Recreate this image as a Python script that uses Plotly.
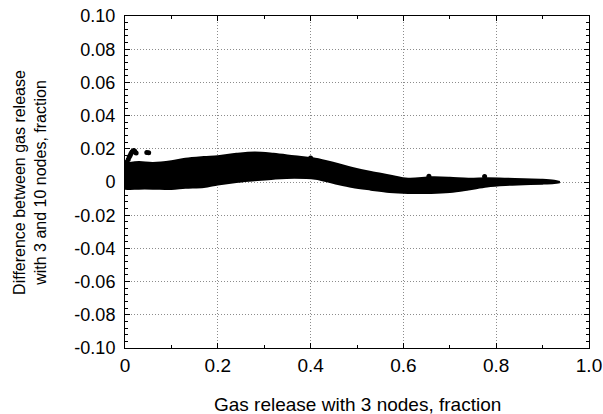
import plotly.graph_objects as go

# Envelope of the dense cloud of simulated points (gas release with 3 nodes vs. difference)
gas_release_3n = [0.0, 0.01, 0.03, 0.06, 0.10, 0.13, 0.17, 0.20, 0.24, 0.28, 0.32, 0.365,
                  0.41, 0.45, 0.49, 0.53, 0.57, 0.61, 0.66, 0.70, 0.74, 0.78, 0.82, 0.86,
                  0.90, 0.925, 0.937]
diff_upper = [0.011, 0.0115, 0.012, 0.0115, 0.0125, 0.014, 0.015, 0.0155, 0.017, 0.0178,
              0.017, 0.0155, 0.014, 0.0115, 0.0085, 0.006, 0.004, 0.002, 0.0028, 0.0026,
              0.002, 0.0022, 0.002, 0.0016, 0.0014, 0.0008, 0.0]
diff_lower = [-0.004, -0.0042, -0.004, -0.004, -0.0042, -0.0035, -0.003, -0.0015, 0.0, 0.001,
              0.002, 0.0026, 0.002, -0.0006, -0.003, -0.0046, -0.006, -0.0066, -0.0066,
              -0.006, -0.0045, -0.0027, -0.0018, -0.0014, -0.001, -0.0006, -0.0002]

# Isolated points that stick out of the cloud
outlier_x = [0.004, 0.007, 0.009, 0.011, 0.013, 0.015, 0.017, 0.019, 0.021, 0.024,
             0.047, 0.051, 0.655, 0.775, 0.40]
outlier_y = [0.012, 0.0135, 0.015, 0.016, 0.0172, 0.018, 0.0185, 0.019, 0.0185, 0.0175,
             0.0178, 0.0176, 0.0034, 0.0033, 0.0145]

x_ticks = [0, 0.2, 0.4, 0.6, 0.8, 1.0]
x_tick_text = ["0", "0.2", "0.4", "0.6", "0.8", "1.0"]
y_ticks = [0.10, 0.08, 0.06, 0.04, 0.02, 0.0, -0.02, -0.04, -0.06, -0.08, -0.10]
y_tick_text = ["0.10", "0.08", "0.06", "0.04", "0.02", "0", "-0.02", "-0.04", "-0.06",
               "-0.08", "-0.10"]

FONT = "Liberation Sans, Arial, sans-serif"

fig = go.Figure()
fig.add_trace(go.Scatter(x=gas_release_3n, y=diff_upper, mode="lines",
                         line=dict(color="black", width=2, shape="spline"),
                         hoverinfo="skip"))
fig.add_trace(go.Scatter(x=gas_release_3n, y=diff_lower, mode="lines",
                         line=dict(color="black", width=2, shape="spline"),
                         fill="tonexty", fillcolor="black", hoverinfo="skip"))
fig.add_trace(go.Scatter(x=outlier_x, y=outlier_y, mode="markers",
                         marker=dict(color="black", size=5), hoverinfo="skip"))

axis_common = dict(
    showline=True, linecolor="black", linewidth=1, mirror="allticks",
    ticks="inside", ticklen=5, tickcolor="black",
    showgrid=True, gridcolor="#8c8c8c", griddash="1px,2px", gridwidth=1,
    zeroline=False, automargin=False,
)

fig.update_xaxes(range=[0, 1.0], tickvals=x_ticks, ticktext=x_tick_text,
                 tickfont=dict(family=FONT, size=19, color="black"),
                 ticklabelstandoff=0,
                 minor=dict(dtick=0.1, ticks="inside", ticklen=3, tickcolor="black",
                            showgrid=False),
                 **axis_common)
fig.update_yaxes(range=[-0.10, 0.10], tickvals=y_ticks, ticktext=y_tick_text,
                 tickfont=dict(family=FONT, size=18, color="black"),
                 ticklabelstandoff=5,
                 minor=dict(dtick=0.004, tick0=0, ticks="inside", ticklen=3,
                            tickcolor="black", showgrid=False),
                 **axis_common)

fig.add_annotation(text="Gas release with 3 nodes, fraction", xref="paper", yref="paper",
                   x=0.5, y=-0.17, yanchor="middle", showarrow=False,
                   font=dict(family=FONT, size=19, color="black"))
fig.add_annotation(text="Difference between gas release<br>with 3 and 10 nodes, fraction",
                   xref="paper", yref="paper", x=-0.205, y=0.5, xanchor="center",
                   yanchor="middle", textangle=-90, showarrow=False,
                   font=dict(family=FONT, size=16, color="black"))

fig.update_layout(
    width=603, height=414, showlegend=False,
    margin=dict(l=125, r=14, t=16, b=66),
    paper_bgcolor="white", plot_bgcolor="white",
)

fig.write_html("out.html")
